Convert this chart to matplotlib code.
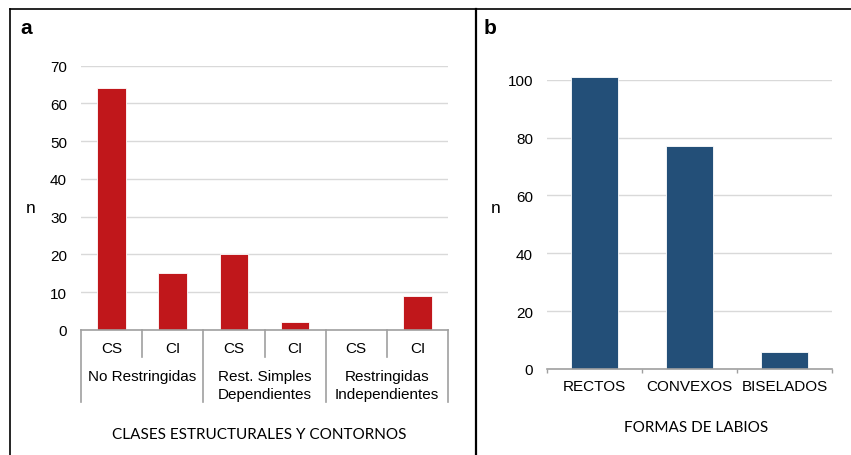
import matplotlib
matplotlib.use("Agg")
import matplotlib.pyplot as plt
from matplotlib.lines import Line2D

# ---- data ----
contornos = ["CS", "CI", "CS", "CI", "CS", "CI"]
clases = ["No Restringidas", "Rest. Simples\nDependientes", "Restringidas\nIndependientes"]
valores_a = [64, 15, 20, 2, 0, 9]
yticks_a = [0, 10, 20, 30, 40, 50, 60, 70]

formas = ["RECTOS", "CONVEXOS", "BISELADOS"]
valores_b = [101, 77, 6]
yticks_b = [0, 20, 40, 60, 80, 100]

W, H = 851, 456
fig = plt.figure(figsize=(W / 100, H / 100), dpi=100)
fig.patch.set_facecolor("white")

TICK_FONT = "Liberation Sans"
TITLE_FONT = "Lato"
FS = 11
GRID = "#d9d9d9"
AXC = "#a0a0a0"

def rect(x0, y0, x1, y1):
    return [x0 / W, 1 - y1 / H, (x1 - x0) / W, (y1 - y0) / H]

def style(ax, yt):
    ax.set_yticks(yt)
    ax.set_yticklabels([str(v) for v in yt], fontfamily=TICK_FONT, fontsize=FS)
    ax.tick_params(axis="y", length=0, pad=10)
    for s in ["top", "right", "left"]:
        ax.spines[s].set_visible(False)
    ax.spines["bottom"].set_color(AXC)
    ax.spines["bottom"].set_linewidth(1.2)
    ax.grid(axis="y", color=GRID, linewidth=1)
    ax.set_axisbelow(True)
    ax.set_facecolor("none")

# ---- panel a ----
axa = fig.add_axes(rect(81, 66.7, 448, 331))
x = list(range(len(valores_a)))
axa.bar(x, valores_a, width=0.47, color="#c0171b", edgecolor="white", linewidth=0.6)
axa.set_xlim(-0.5, len(valores_a) - 0.5)
axa.set_ylim(0, 70)
style(axa, yticks_a)
axa.set_xticks([])
hpx = 331 - 66.7
tr = axa.get_xaxis_transform()
for i, lab in enumerate(contornos):
    axa.text(i, -18 / hpx, lab, transform=tr, ha="center", va="center",
             fontfamily=TICK_FONT, fontsize=FS)
for i in range(len(valores_a) + 1):
    xb = i - 0.5
    depth = 72 if i % 2 == 0 else 27
    axa.add_line(Line2D([xb, xb], [0, -depth / hpx], transform=tr, color=AXC,
                        linewidth=1.2, clip_on=False))
for g, lab in enumerate(clases):
    axa.text(2 * g + 0.5, -39.5 / hpx, lab, transform=tr, ha="center", va="top",
             fontfamily=TICK_FONT, fontsize=FS, linespacing=1.28)
fig.text(30.5 / W, 1 - 209 / H, "n", ha="center", va="center",
         fontfamily=TICK_FONT, fontsize=12.5)
fig.text(259 / W, 1 - 435 / H, "CLASES ESTRUCTURALES Y CONTORNOS", ha="center",
         va="center", fontfamily=TITLE_FONT, fontsize=11)
fig.text(20 / W, 1 - 28 / H, "a", ha="left", va="center",
         fontfamily=TICK_FONT, fontsize=15, fontweight="bold")

# ---- panel b ----
axb = fig.add_axes(rect(547, 80.7, 832, 370))
xb_ = list(range(len(valores_b)))
axb.bar(xb_, valores_b, width=0.5, color="#234f78", edgecolor="white",
        linewidth=0.6, clip_on=False)
axb.set_xlim(-0.5, len(valores_b) - 0.5)
axb.set_ylim(0, 100)
style(axb, yticks_b)
axb.set_xticks([i - 0.5 for i in range(len(valores_b) + 1)], minor=False)
axb.set_xticklabels([""] * (len(valores_b) + 1))
axb.tick_params(axis="x", length=3, color=AXC, width=1)
hb = 370 - 80.7
trb = axb.get_xaxis_transform()
for i, lab in enumerate(formas):
    axb.text(i, -17 / hb, lab, transform=trb, ha="center", va="center",
             fontfamily=TICK_FONT, fontsize=FS)
fig.text(496 / W, 1 - 209 / H, "n", ha="center", va="center",
         fontfamily=TICK_FONT, fontsize=12.5)
fig.text(696 / W, 1 - 428 / H, "FORMAS DE LABIOS", ha="center",
         va="center", fontfamily=TITLE_FONT, fontsize=11)
fig.text(484 / W, 1 - 28 / H, "b", ha="left", va="center",
         fontfamily=TICK_FONT, fontsize=15, fontweight="bold")

# ---- frame lines ----
fig.add_artist(Line2D([10 / W, 10 / W], [0, 1 - 10 / H], transform=fig.transFigure,
                      color="black", linewidth=1.2))
fig.add_artist(Line2D([10 / W, 1], [1 - 10 / H, 1 - 10 / H], transform=fig.transFigure,
                      color="black", linewidth=1.2))
fig.add_artist(Line2D([476 / W, 476 / W], [0, 1 - 10 / H], transform=fig.transFigure,
                      color="black", linewidth=1.6))

fig.savefig("out.png", dpi=100)
